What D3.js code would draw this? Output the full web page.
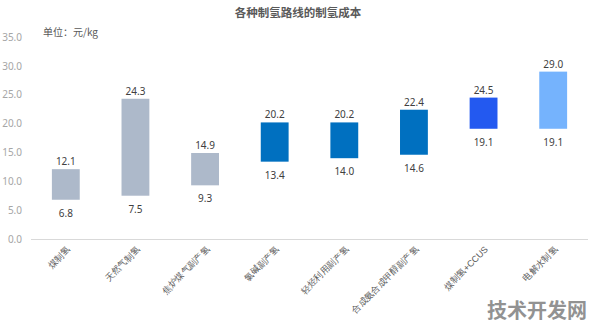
<!DOCTYPE html>
<html>
<head>
<meta charset="utf-8">
<script src="https://cdn.jsdelivr.net/npm/d3@7"></script>
<style>
  html, body { margin: 0; padding: 0; background: #fff; }
  svg { display: block; font-family: "Noto Sans CJK SC", "Noto Sans", sans-serif; }
</style>
</head>
<body>
<svg id="chart" width="596" height="328"></svg>
<script>
// Hydrogen production routes and their cost range (元/kg)
const categories = ["煤制氢", "天然气制氢", "焦炉煤气副产氢", "氯碱副产氢", "轻烃利用副产氢", "合成氨合成甲醇副产氢", "煤制氢+CCUS", "电解水制氢"];
const lowCost  = [6.8, 7.5, 9.3, 13.4, 14.0, 14.6, 19.1, 19.1];
const highCost = [12.1, 24.3, 14.9, 20.2, 20.2, 22.4, 24.5, 29.0];
const barColors = ["#adb9ca", "#adb9ca", "#adb9ca", "#0070c0", "#0070c0", "#0070c0", "#2359f0", "#75b3fd"];
const yTicks = [0, 5, 10, 15, 20, 25, 30, 35];

const svg = d3.select("#chart");
const W = 596, H = 328;
const m = { left: 31, right: 8, top: 37, bottom: 89 };

const x = d3.scaleBand().domain(categories).range([m.left, W - m.right]).paddingInner(0.6).paddingOuter(0.3);
const y = d3.scaleLinear().domain([0, 35]).range([H - m.bottom, m.top]);

// Title and unit
svg.append("text").attr("x", 298).attr("y", 17).attr("text-anchor", "middle")
  .attr("font-size", 11.5).attr("font-weight", "bold").attr("fill", "#595959")
  .text("各种制氢路线的制氢成本");
svg.append("text").attr("x", 43).attr("y", 36)
  .attr("font-size", 10).attr("fill", "#595959").text("单位：元/kg");

// Y axis labels (no line)
const yAxis = svg.append("g").attr("transform", `translate(${m.left},0)`)
  .call(d3.axisLeft(y).tickValues(yTicks).tickFormat(d3.format(".1f")).tickSize(0).tickPadding(9));
yAxis.select(".domain").remove();
yAxis.selectAll("text").attr("fill", "#a6a6a6").attr("font-size", 10)
  .attr("font-family", "'Noto Sans', sans-serif");

// X axis baseline and rotated category labels
const xAxis = svg.append("g").attr("transform", `translate(0,${y(0)})`)
  .call(d3.axisBottom(x).tickSize(0).tickPadding(0));
xAxis.select(".domain").attr("stroke", "#d9d9d9").attr("d", `M${m.left},0.5H${W - m.right}`);
xAxis.selectAll(".tick text")
  .attr("font-size", 9).attr("fill", "#595959")
  .attr("text-anchor", "end").attr("dy", null).attr("y", 0)
  .attr("transform", "translate(5,11) rotate(-45)");

// Floating bars from low to high cost
const data = categories.map((c, i) => ({ c, lo: lowCost[i], hi: highCost[i], color: barColors[i] }));
const g = svg.append("g");
g.selectAll("rect").data(data).join("rect")
  .attr("x", d => x(d.c)).attr("width", x.bandwidth())
  .attr("y", d => y(d.hi)).attr("height", d => y(d.lo) - y(d.hi))
  .attr("fill", d => d.color);

// Value labels: high above, low below
g.selectAll("text.hi").data(data).join("text").attr("class", "hi")
  .attr("x", d => x(d.c) + x.bandwidth() / 2).attr("y", d => y(d.hi) - 4)
  .attr("text-anchor", "middle").attr("font-size", 10).attr("fill", "#404040")
  .attr("font-family", "'Noto Sans', sans-serif")
  .text(d => d.hi.toFixed(1));
g.selectAll("text.lo").data(data).join("text").attr("class", "lo")
  .attr("x", d => x(d.c) + x.bandwidth() / 2).attr("y", d => y(d.lo) + 17)
  .attr("text-anchor", "middle").attr("font-size", 10).attr("fill", "#404040")
  .attr("font-family", "'Noto Sans', sans-serif")
  .text(d => d.lo.toFixed(1));

// Site mark in the lower right corner
svg.append("text").attr("x", 587).attr("y", 318).attr("text-anchor", "end")
  .attr("font-size", 20).attr("font-weight", "bold").attr("fill", "#7f7f7f").attr("opacity", 0.85)
  .text("技术开发网");
</script>
</body>
</html>
